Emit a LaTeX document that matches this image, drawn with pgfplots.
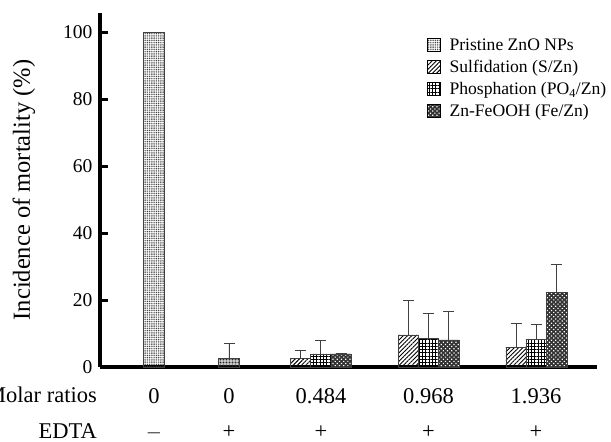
\documentclass[border=0pt]{standalone}
\usepackage{pgfplots}
\pgfplotsset{compat=1.18}
\usepackage{fontspec}
\setmainfont{Liberation Serif}
\usetikzlibrary{patterns,patterns.meta}

\pgfplotstableread{
x y e
54 100 0
}\pristine
\pgfplotstableread{
x y e
129 2.5 4.6
}\edta
\pgfplotstableread{
x y e
200.7 2.5 2.3
308.3 9.6 10.4
416 5.9 7.1
}\sulf
\pgfplotstableread{
x y e
220.7 3.9 3.9
328.3 8.6 7.4
436 8.3 4.3
}\phos
\pgfplotstableread{
x y e
241 3.9 0
348.8 8.1 8.6
456.7 22.3 8.2
}\fe

\begin{document}
\begin{tikzpicture}
\begin{axis}[
  at={(0,0)}, anchor=origin,
  scale only axis,
  width=497pt, height=354.3pt,
  xmin=0, xmax=497, ymin=0, ymax=105.8,
  axis x line=bottom, axis y line=left,
  axis line style={line width=3.4pt,-,black},
  ybar, bar width=20.3, bar shift=0pt,
  ytick={0,20,40,60,80,100},
  ytick align=inside,
  xtick={54,129,221,328.5,436},
  xticklabels={0,0,0.484,0.968,1.936},
  xtick style={/pgfplots/major tick length=0pt},
  ytick style={black, line width=3pt, /pgfplots/major tick length=8pt},
  xticklabel style={font=\fontsize{22.5}{26}\selectfont, anchor=base, yshift=-32.5pt},
  yticklabel style={font=\fontsize{19.5}{23}\selectfont, xshift=-4pt},
  /pgf/number format/assume math mode=true,
  clip=false,
  legend style={at={(0.658,0.9325)}, anchor=north west, draw=none, fill=none,
    font=\fontsize{17.6}{20}\selectfont, row sep=4.3pt, inner sep=0pt,
    /tikz/every odd column/.append style={column sep=6.5pt}},
  legend cell align=left,
  legend image code/.code={\draw[#1,line width=0.8pt,draw=black] (0pt,-6.5pt) rectangle (13pt,6.5pt);},
  error bars/y dir=plus,
  error bars/y explicit,
  error bars/error bar style={line width=0.9pt,black!75},
  error bars/error mark options={rotate=90,mark size=5.5pt,line width=0.9pt,black!75},
]
\addplot[draw=black!75, line width=0.7pt, pattern={Dots[distance=1.8pt,radius=0.6pt]}, pattern color=black!80]
  table[x=x,y=y,y error=e]{\pristine};
\addlegendentry{Pristine ZnO NPs}
\addplot[draw=black!75, line width=0.7pt, pattern={Lines[angle=45,distance=3pt,line width=0.9pt]}, pattern color=black]
  table[x=x,y=y,y error=e]{\sulf};
\addlegendentry{Sulfidation (S/Zn)}
\addplot[draw=black!75, line width=0.7pt, pattern={Hatch[angle=0,distance=3.3pt,line width=0.8pt]}, pattern color=black]
  table[x=x,y=y,y error=e]{\phos};
\addlegendentry{Phosphation (PO\textsubscript{4}/Zn)}
\addplot[draw=black!75, line width=0.7pt, fill=black!80, postaction={pattern={Dots[distance=3pt,angle=45,radius=0.85pt]}, pattern color=white}]
  table[x=x,y=y,y error=e]{\fe};
\addlegendentry{Zn-FeOOH (Fe/Zn)}
\addplot[forget plot, draw=black!75, line width=0.7pt, pattern={Dots[distance=1.5pt,radius=0.55pt]}, pattern color=black!85]
  table[x=x,y=y,y error=e]{\edta};
\end{axis}
\node[anchor=base east, font=\fontsize{22.5}{26}\selectfont, inner sep=0pt] at (-3pt,-36pt) {Molar ratios};
\node[anchor=base east, font=\fontsize{22.5}{26}\selectfont, inner sep=0pt] at (-3pt,-71.5pt) {EDTA};
\foreach \xx/\s in {54/{$-$},129/+,221/+,328.5/+,436/+}{
  \node[anchor=base, font=\fontsize{22.5}{26}\selectfont, inner sep=0pt] at (\xx pt,-71.5pt) {\s};
}
\node[rotate=90, font=\fontsize{24.5}{28}\selectfont] at (-76pt,177pt) {Incidence of mortality (\%)};
\pgfresetboundingbox
\path[use as bounding box] (-100pt,-75pt) rectangle (511pt,367pt);
\end{tikzpicture}
\end{document}
